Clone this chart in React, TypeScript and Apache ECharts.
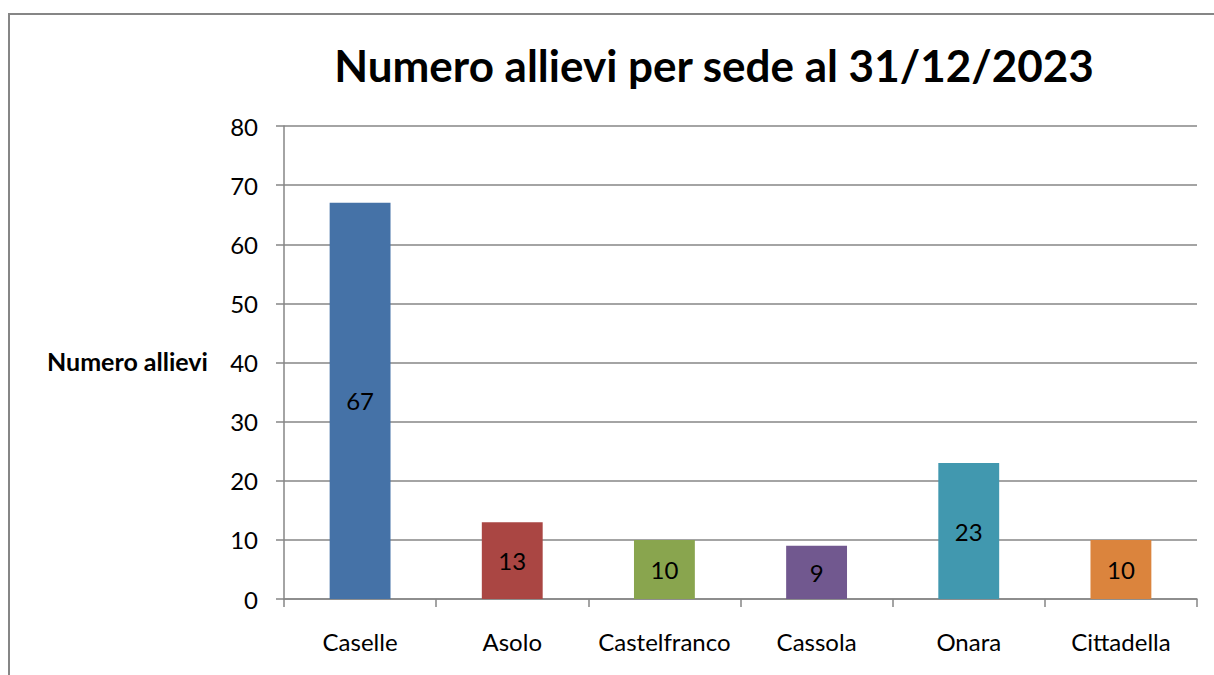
import React, { useEffect, useRef } from "react";
import * as echarts from "echarts";

const categories = ["Caselle", "Asolo", "Castelfranco", "Cassola", "Onara", "Cittadella"];
const values = [67, 13, 10, 9, 23, 10];
const barColors = ["#4572A7", "#AA4643", "#89A54E", "#71588F", "#4198AF", "#DB843D"];
const titleText = "Numero allievi per sede al 31/12/2023";
const yAxisTitle = "Numero allievi";

const FONT = "Lato, 'Open Sans', sans-serif";

export default function App() {
  const ref = useRef<HTMLDivElement>(null);
  useEffect(() => {
    if (!ref.current) return;
    const chart = echarts.init(ref.current, null, { renderer: "svg" });
    chart.setOption({
      animation: false,
      backgroundColor: "#ffffff",
      title: {
        text: titleText,
        left: 709,
        textAlign: "center",
        top: 38,
        textStyle: { fontFamily: FONT, fontWeight: "bold", fontSize: 44, color: "#000" },
      },
      graphic: [
        {
          type: "rect",
          shape: { x: 9, y: 14, width: 1300, height: 800 },
          style: { fill: "none", stroke: "#868686", lineWidth: 2 },
          silent: true,
        },
        {
          type: "text",
          left: 47,
          top: 348,
          style: { text: yAxisTitle, font: `bold 25px ${FONT}`, fill: "#000" },
        },
      ],
      grid: { left: 284, top: 126, width: 913, height: 473, containLabel: false },
      xAxis: {
        type: "category",
        data: categories,
        axisLine: { lineStyle: { color: "#868686", width: 1.5 } },
        axisTick: { show: true, interval: 0, length: 8, alignWithLabel: false, lineStyle: { color: "#868686", width: 1.5 } },
        axisLabel: { interval: 0, hideOverlap: false, fontFamily: FONT, fontSize: 24, color: "#000", margin: 30 },
      },
      yAxis: {
        type: "value",
        min: 0,
        max: 80,
        interval: 10,
        axisLine: { show: true, lineStyle: { color: "#868686", width: 1.5 } },
        axisTick: { show: true, length: 8, lineStyle: { color: "#868686", width: 1.5 } },
        axisLabel: { fontFamily: FONT, fontSize: 24, color: "#000", margin: 26 },
        splitLine: { show: true, lineStyle: { color: "#868686", width: 1.5 } },
      },
      series: [
        {
          type: "bar",
          data: values.map((v, i) => ({ value: v, itemStyle: { color: barColors[i] } })),
          barWidth: "40%",
          label: {
            show: true,
            position: "inside",
            fontFamily: FONT,
            fontSize: 24,
            color: "#000",
          },
        },
      ],
    });
    return () => chart.dispose();
  }, []);
  return (
    <div
      ref={ref}
      style={{ position: "absolute", left: 0, top: 0, width: 1214, height: 675 }}
    />
  );
}
